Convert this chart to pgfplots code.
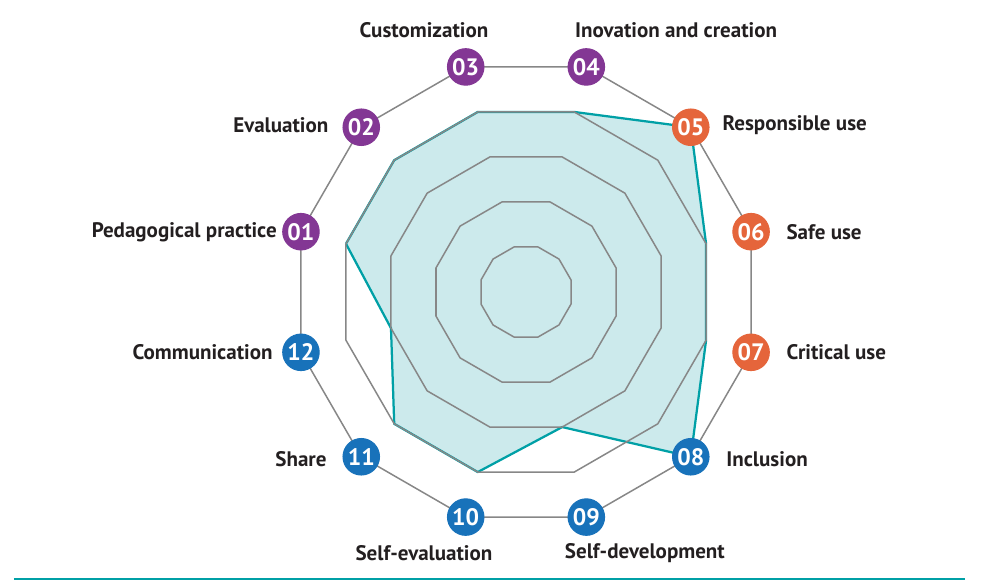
\documentclass[border=0pt]{standalone}
\usepackage{pgfplots}
\pgfplotsset{compat=1.18}
\usepackage{fontspec}
\setmainfont{PT Sans}
\definecolor{cpurple}{HTML}{833794}
\definecolor{corange}{HTML}{E5653B}
\definecolor{cblue}{HTML}{1872BA}
\definecolor{cteal}{HTML}{00A0A6}
\definecolor{cfill}{HTML}{CCEAEC}
\definecolor{cgrid}{HTML}{878787}
\definecolor{ctext}{HTML}{231F20}
\tikzset{lab/.style={font=\bfseries\fontsize{8.4}{9}\selectfont, text=ctext, inner sep=0pt}}
\begin{document}
\begin{tikzpicture}
\begin{axis}[
    scale only axis,
    width=14cm, height=8.2287cm,
    xmin=-11.288, xmax=10.107,
    ymin=-6.309, ymax=6.266,
    hide axis, clip=false,
    data cs=polar,
    every axis plot/.append style={line join=round},
    ]
\path (rel axis cs:0,0) rectangle (rel axis cs:1,1);
% competence scores
\addplot[draw=cteal, line width=0.9pt, fill=cfill] coordinates {
    (165,4) (135,4) (105,4) (75,4) (45,5) (15,4)
    (-15,4) (-45,5) (-75,3) (-105,4) (-135,4) (-165,3) (165,4)};
% rings
\foreach \r in {1,...,5} {
\addplot[draw=cgrid, line width=0.6pt] coordinates {
    (165,\r) (135,\r) (105,\r) (75,\r) (45,\r) (15,\r)
    (-15,\r) (-45,\r) (-75,\r) (-105,\r) (-135,\r) (-165,\r) (165,\r)};
}
% numbered markers
\pgfplotsset{num/.style={only marks, mark=*, mark size=7.3pt,
    point meta=explicit symbolic, nodes near coords,
    every node near coord/.append style={anchor=center, text=white,
        font=\bfseries\fontsize{9.5}{10}\selectfont, inner sep=0pt}}}
\addplot[num, color=cpurple] coordinates {
    (165,5) [01] (135,5) [02] (105,5) [03] (75,5) [04]};
\addplot[num, color=corange] coordinates {
    (45,5) [05] (15,5) [06] (-15,5) [07]};
\addplot[num, color=cblue] coordinates {
    (-45,5) [08] (-75,5) [09] (-105,5) [10] (-135,5) [11] (-165,5) [12]};
% labels
\node[lab] at (axis cs:-2.19,5.62) {Customization};
\node[lab] at (axis cs:3.22,5.62) {Inovation and creation};
\node[lab, anchor=east] at (axis cs:-4.23,3.58) {Evaluation};
\node[lab, anchor=west] at (axis cs:4.21,3.58) {Responsible use};
\node[lab, anchor=east] at (axis cs:-5.34,1.29) {Pedagogical practice};
\node[lab, anchor=west] at (axis cs:5.58,1.29) {Safe use};
\node[lab, anchor=west] at (axis cs:5.58,-1.29) {Critical use};
\node[lab, anchor=east] at (axis cs:-5.43,-1.29) {Communication};
\node[lab, anchor=east] at (axis cs:-4.27,-3.58) {Share};
\node[lab, anchor=west] at (axis cs:4.29,-3.58) {Inclusion};
\node[lab] at (axis cs:-2.19,-5.60) {Self-evaluation};
\node[lab] at (axis cs:2.55,-5.60) {Self-development};
\draw[cteal, line width=0.7pt] (axis cs:-10.99,-6.16) -- (axis cs:9.42,-6.16);
\end{axis}
\end{tikzpicture}
\end{document}
